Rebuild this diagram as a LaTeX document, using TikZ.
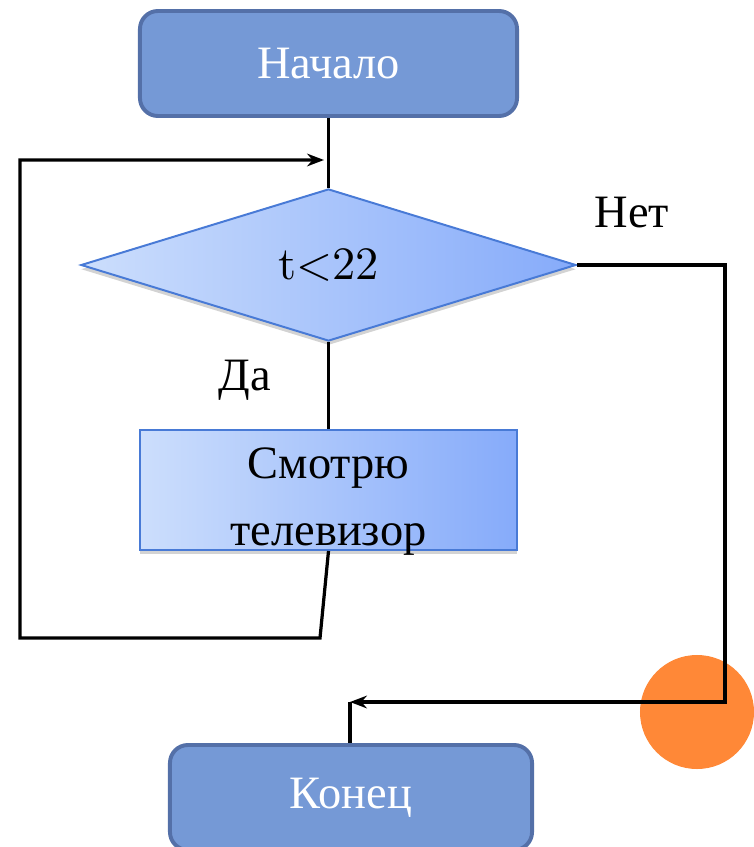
\documentclass[tikz,border=0pt]{standalone}
\usepackage{fontspec}
\setmainfont{Liberation Serif}
\newfontfamily\lmfont{lmroman10-regular.otf}
\usetikzlibrary{shapes.geometric,arrows.meta,shadows}
\definecolor{boxblue}{RGB}{117,153,214}
\definecolor{boxedge}{RGB}{84,112,168}
\definecolor{paleblue}{RGB}{204,222,252}
\definecolor{deepblue}{RGB}{134,171,250}
\definecolor{diaedge}{RGB}{72,122,214}
\definecolor{dotorange}{RGB}{255,136,55}
\begin{document}
\begin{tikzpicture}[x=0.025cm,y=-0.025cm,
  every node/.style={font=\fontsize{33}{47}\selectfont},
  term/.style={draw=boxedge,line width=2.8pt,fill=boxblue,rounded corners=0.45cm,
    text=white,minimum height=2.625cm},
  ask/.style={diamond,draw=diaedge,line width=1.4pt,left color=paleblue,right color=deepblue,
    minimum width=12.375cm,minimum height=3.75cm,
    drop shadow={shadow xshift=0pt,shadow yshift=-3pt,opacity=0.35}},
  act/.style={draw=diaedge,line width=1.4pt,left color=paleblue,right color=deepblue,
    minimum width=9.4cm,minimum height=3cm,align=center,
    drop shadow={shadow xshift=0pt,shadow yshift=-3pt,opacity=0.35}},
  link/.style={line width=2.3pt},
  arr/.style={link,-{Stealth[length=12pt,width=9pt]}}]
\useasboundingbox (0,0) rectangle (754,847);
\node[circle,fill=dotorange,minimum size=2.85cm,inner sep=0pt] (dot) at (697,712) {};
\node[term,minimum width=9.425cm] (start) at (328.5,63.5) {Начало};
\node[ask] (check) at (328.5,265) {\lmfont t<22};
\node[act,inner ysep=0pt,text height=2.75cm,text depth=0pt] (watch) at (328.5,490) {Смотрю\\телевизор};
\node[term,minimum width=9.05cm] (stop) at (351,797.5) {Конец};
\node (yes) at (245,380) {Да};
\node (no) at (632,213) {Нет};
\coordinate (loopin) at (324,160);
\coordinate (stopin) at (350,702);
% connectors
\draw[link] (start) -- (check);
\draw[link] (check) -- (watch);
\draw[arr] (watch.south) -- (320,638) -| (20,160) -- (loopin);
\draw[arr] (check.east) -| (725,702) -- (stopin);
\draw[link] (stopin) -- (stopin |- stop.north);
\end{tikzpicture}
\end{document}
